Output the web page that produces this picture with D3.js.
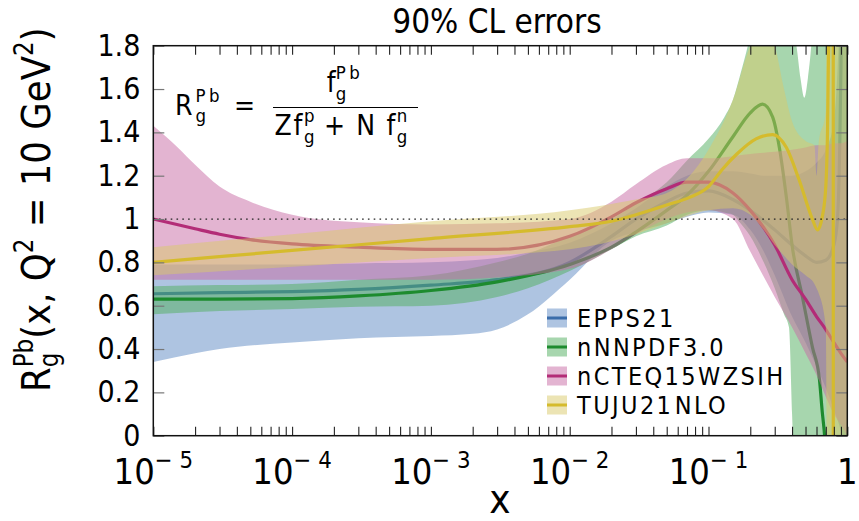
<!DOCTYPE html>
<html>
<head>
<meta charset="utf-8">
<script src="https://cdn.jsdelivr.net/npm/d3@7"></script>
<style>
  body { margin: 0; background: #fff; }
  svg text { font-family: 'DejaVu Sans Condensed', 'DejaVu Sans', sans-serif; font-stretch: condensed; fill: #000; white-space: pre; }
</style>
</head>
<body>
<svg class="chart" width="859" height="521"></svg>
<script>
// ---- data ----
const eppsX   = [1e-5, 3e-5, 1e-4, 3e-4, 1e-3, 3e-3, 1e-2, 2e-2, 3e-2, 5e-2, 0.07, 0.1, 0.15, 0.2, 0.3, 0.4, 0.5, 0.6, 0.7, 0.8, 0.85, 0.88, 0.9, 0.92, 0.95];
const eppsMid = [0.655, 0.66, 0.665, 0.675, 0.695, 0.72, 0.80, 0.92, 1.0, 1.08, 1.12, 1.13, 1.09, 1.04, 0.95, 0.88, 0.83, 0.80, 0.81, 0.88, 1.0, 1.3, 1.7, 2.5, 4];
const eppsBandX = [1e-5, 2e-5, 3e-5, 1e-4, 3e-4, 1e-3, 2e-3, 3e-3, 5e-3, 1e-2, 2e-2, 3e-2, 5e-2, 0.07, 0.1, 0.15, 0.2, 0.25, 0.3, 0.4, 0.5, 0.6, 0.7, 0.8, 0.9, 0.95, 1];
const eppsLo  = [0.34, 0.38, 0.40, 0.43, 0.45, 0.46, 0.47, 0.49, 0.56, 0.72, 0.90, 0.94, 0.98, 1.01, 1.03, 1.02, 0.95, 0.85, 0.74, 0.55, 0.43, 0.32, 0.22, 0.12, 0.02, -0.05, -0.1];
const eppsHi  = [0.79, 0.79, 0.79, 0.79, 0.795, 0.80, 0.81, 0.82, 0.845, 0.89, 0.98, 1.05, 1.15, 1.2, 1.22, 1.22, 1.21, 1.2, 1.2, 1.2, 1.22, 1.26, 1.32, 1.45, 2.2, 3, 3];

const nnX   = [1e-5, 3e-5, 1e-4, 3e-4, 1e-3, 3e-3, 1e-2, 2e-2, 3e-2, 5e-2, 0.07, 0.1, 0.15, 0.2, 0.245, 0.29, 0.324, 0.364, 0.402, 0.475, 0.56, 0.63, 0.66, 0.68, 0.72];
const nnMid = [0.63, 0.63, 0.633, 0.645, 0.67, 0.71, 0.79, 0.87, 0.94, 1.04, 1.11, 1.22, 1.38, 1.49, 1.53, 1.47, 1.33, 1.10, 0.87, 0.64, 0.41, 0.26, 0.11, 0.03, -0.2];
const nnBandX = [1e-5, 3e-5, 1e-4, 3e-4, 1e-3, 3e-3, 5e-3, 1e-2, 2e-2, 3e-2, 5e-2, 0.07, 0.1, 0.13, 0.15, 0.17, 0.2, 0.25, 0.3, 0.35, 0.38, 0.4, 0.43, 0.46, 0.49, 0.52, 0.55, 0.6, 0.7, 0.8, 1];
const nnLo  = [0.56, 0.575, 0.585, 0.595, 0.60, 0.64, 0.68, 0.76, 0.86, 0.92, 0.97, 1.02, 1.04, 1.03, 1.02, 0.98, 0.92, 0.80, 0.68, 0.56, 0.50, 0.1, -0.5, -1, -1, -1, -1, -1, -1, -1, -1];
const nnHi  = [0.69, 0.695, 0.70, 0.72, 0.74, 0.80, 0.84, 0.92, 1.0, 1.07, 1.17, 1.27, 1.37, 1.47, 1.55, 1.67, 1.85, 2.2, 2.3, 2.2, 2.0, 1.9, 1.8, 1.65, 1.56, 1.65, 1.8, 2.2, 3, 3, 3];

const ncX   = [1e-5, 2e-5, 3e-5, 5e-5, 1e-4, 3e-4, 1e-3, 3e-3, 1e-2, 2e-2, 3e-2, 5e-2, 0.07, 0.1, 0.15, 0.2, 0.25, 0.3, 0.4, 0.5, 0.6, 0.7, 0.8, 0.9, 1];
const ncMid = [1.0, 0.955, 0.93, 0.905, 0.885, 0.87, 0.86, 0.86, 0.92, 1.01, 1.075, 1.14, 1.17, 1.17, 1.12, 1.04, 0.96, 0.88, 0.72, 0.63, 0.55, 0.49, 0.43, 0.38, 0.34];
const ncBandX = [1e-5, 1.5e-5, 2e-5, 3e-5, 5e-5, 1e-4, 3e-4, 1e-3, 3e-3, 1e-2, 2e-2, 3e-2, 5e-2, 0.07, 0.1, 0.15, 0.2, 0.3, 0.4, 0.5, 0.6, 0.7, 0.8, 0.9, 1];
const ncLo  = [0.72, 0.72, 0.72, 0.72, 0.72, 0.72, 0.72, 0.72, 0.73, 0.77, 0.86, 0.93, 1.0, 1.03, 1.04, 1.0, 0.85, 0.64, 0.50, 0.38, 0.28, 0.18, 0.10, 0.05, 0.0];
const ncHi  = [1.43, 1.33, 1.25, 1.15, 1.08, 1.02, 0.985, 0.975, 0.98, 1.0, 1.08, 1.16, 1.25, 1.28, 1.28, 1.29, 1.30, 1.31, 1.32, 1.33, 1.34, 1.34, 1.35, 1.35, 1.36];

const tuX   = [1e-5, 1e-4, 1e-3, 1e-2, 2e-2, 3e-2, 5e-2, 0.073, 0.1, 0.126, 0.16, 0.22, 0.29, 0.364, 0.45, 0.56, 0.61, 0.66, 0.7, 0.72, 0.74, 0.76, 0.79, 0.795, 0.8, 0.9, 1];
const tuMid = [0.80, 0.855, 0.91, 0.965, 0.99, 1.02, 1.065, 1.10, 1.15, 1.23, 1.30, 1.37, 1.39, 1.33, 1.18, 1.0, 0.95, 1.01, 1.15, 1.4, 2.0, 3, 10, -10, -4, -1.5, -1];
const tuBandX = [1e-5, 1e-4, 1e-3, 1e-2, 3e-2, 5e-2, 0.1, 0.15, 0.2, 0.25, 0.3, 0.35, 0.4, 0.5, 0.58, 0.6, 0.62, 0.7, 0.72, 0.8, 1];
const tuLo  = [0.74, 0.78, 0.82, 0.86, 0.93, 0.98, 1.04, 1.05, 1.02, 0.95, 0.88, 0.83, 0.79, 0.74, 0.70, 0.68, 0.66, 0.5, -0.5, -1, -1];
const tuHi  = [0.87, 0.93, 0.99, 1.04, 1.09, 1.12, 1.32, 1.55, 1.8, 1.9, 1.8, 1.6, 1.45, 1.36, 1.34, 1.2, 1.34, 1.5, 3, 3, 3];

const setNames = ['EPPS21', 'nNNPDF3.0', 'nCTEQ15WZSIH', 'TUJU21 NLO'];
const yTicks = [0, 0.2, 0.4, 0.6, 0.8, 1, 1.2, 1.4, 1.6, 1.8];
const xDecades = [-5, -4, -3, -2, -1, 0];

// ---- layout ----
const svg = d3.select('.chart');
const x = d3.scaleLog().domain([1e-5, 1]).range([153.3, 847.3]);
const y = d3.scaleLinear().domain([0, 1.8]).range([435.7, 45.7]);

const sets = [
    {bx: eppsBandX, lo: eppsLo, hi: eppsHi, cx: eppsX, mid: eppsMid, fill: '#5d89c3', line: '#3a6daa'},
    {bx: nnBandX, lo: nnLo, hi: nnHi, cx: nnX, mid: nnMid, fill: '#4fae5d', line: '#1d8b2e'},
    {bx: ncBandX, lo: ncLo, hi: ncHi, cx: ncX, mid: ncMid, fill: '#c76aa3', line: '#b32c77'},
    {bx: tuBandX, lo: tuLo, hi: tuHi, cx: tuX, mid: tuMid, fill: '#d9c96a', line: '#d5bb2d'}
];

svg.append('clipPath').attr('id', 'plotclip')
    .append('rect')
    .attr('x', x.range()[0]).attr('y', y.range()[1])
    .attr('width', x.range()[1] - x.range()[0])
    .attr('height', y.range()[0] - y.range()[1]);

const plot = svg.append('g').attr('clip-path', 'url(#plotclip)');

const area = d3.area()
    .x(d => x(d[0]))
    .y0(d => y(d[1]))
    .y1(d => y(d[2]))
    .curve(d3.curveMonotoneX);

const line = d3.line()
    .x(d => x(d[0]))
    .y(d => y(d[1]))
    .curve(d3.curveMonotoneX);

sets.forEach(s => {
    plot.append('path')
        .datum(d3.zip(s.bx, s.lo, s.hi))
        .attr('d', area)
        .attr('fill', s.fill)
        .attr('fill-opacity', 0.5);
    plot.append('path')
        .datum(d3.zip(s.cx, s.mid))
        .attr('d', line)
        .attr('fill', 'none')
        .attr('stroke', s.line)
        .attr('stroke-width', 3.2);
});

// dotted reference at R = 1
plot.append('line')
    .attr('x1', x(1e-5)).attr('x2', x(1))
    .attr('y1', y(1)).attr('y2', y(1))
    .attr('stroke', '#222')
    .attr('stroke-width', 1.3)
    .attr('stroke-dasharray', '1.6,4.2');

// ---- axes ----
const xMinor = [];
xDecades.slice(0, -1).forEach(d => {
    for (let k = 1; k <= 9; k++) xMinor.push(k * Math.pow(10, d));
});
xMinor.push(1);

svg.append('g')
    .attr('transform', `translate(0,${y.range()[0]})`)
    .call(d3.axisBottom(x).tickValues(xMinor).tickSize(-9).tickFormat(''))
    .call(g => g.select('.domain').remove())
    .call(g => g.selectAll('line').attr('stroke', '#222').attr('stroke-width', 1.1));

svg.append('g')
    .attr('transform', `translate(0,${y.range()[1]})`)
    .call(d3.axisTop(x).tickValues(xMinor).tickSize(-9).tickFormat(''))
    .call(g => g.select('.domain').remove())
    .call(g => g.selectAll('line').attr('stroke', '#222').attr('stroke-width', 1.1));

svg.append('g')
    .attr('transform', `translate(${x.range()[0]},0)`)
    .call(d3.axisLeft(y).tickValues(yTicks).tickSize(-11).tickPadding(13).tickFormat(d3.format('')))
    .call(g => g.select('.domain').remove())
    .call(g => g.selectAll('line').attr('stroke', '#777').attr('stroke-width', 1.2))
    .call(g => g.selectAll('text')
        .attr('fill', '#000')
        .style('font-size', '30px')
        .style('font-family', null));

svg.append('g')
    .attr('transform', `translate(${x.range()[1]},0)`)
    .call(d3.axisRight(y).tickValues(yTicks).tickSize(-11).tickFormat(''))
    .call(g => g.select('.domain').remove())
    .call(g => g.selectAll('line').attr('stroke', '#777').attr('stroke-width', 1.2));

// frame
svg.append('rect')
    .attr('x', x.range()[0]).attr('y', y.range()[1])
    .attr('width', x.range()[1] - x.range()[0])
    .attr('height', y.range()[0] - y.range()[1])
    .attr('fill', 'none')
    .attr('stroke', '#111')
    .attr('stroke-width', 1.5);

// text with stacked super/subscripts, returns its width
function rich(g, x0, y0, parts, size, opts) {
    opts = opts || {};
    const ss = size * (opts.scale || 0.65);
    const up = opts.up || 0.42, down = opts.down || 0.22;
    let cx = x0;
    parts.forEach(p => {
        if (p.t !== undefined) {
            const t = g.append('text').attr('x', cx).attr('y', y0)
                .style('font-size', size + 'px')
                .style('letter-spacing', (opts.ls || 0) + 'px')
                .text(p.t);
            cx += t.node().getComputedTextLength();
        } else {
            let w = 0;
            if (p.sup) {
                const t = g.append('text').attr('x', cx).attr('y', y0 - size * up)
                    .style('font-size', ss + 'px')
                    .style('letter-spacing', (opts.sls || 0) + 'px')
                    .text(p.sup);
                w = Math.max(w, t.node().getComputedTextLength());
            }
            if (p.sub) {
                const t = g.append('text').attr('x', cx).attr('y', y0 + size * down)
                    .style('font-size', ss + 'px')
                    .style('letter-spacing', (opts.sls || 0) + 'px')
                    .text(p.sub);
                w = Math.max(w, t.node().getComputedTextLength());
            }
            cx += w;
        }
    });
    return cx - x0;
}

// x tick labels 10^n
xDecades.forEach(d => {
    const g = svg.append('g');
    const parts = d === 0 ? [{t: '1'}] : [{t: '10'}, {sup: '\u2212 ' + (-d)}];
    const w = rich(g, 0, 0, parts, 36, {scale: 0.66, up: 0.44});
    g.attr('transform', `translate(${x(Math.pow(10, d)) - w / 2},484)`);
});

// axis titles
svg.append('text')
    .attr('x', 500).attr('y', 513)
    .attr('text-anchor', 'middle')
    .style('font-size', '40px')
    .text('x');

svg.append('text')
    .attr('x', 497).attr('y', 33)
    .attr('text-anchor', 'middle')
    .style('font-size', '33px')
    .text('90% CL errors');

const yl = svg.append('g').attr('transform', 'translate(50,392) rotate(-90)');
rich(yl, 0, 0, [{t: 'R'}, {sup: 'Pb', sub: 'g'}, {t: '(x, Q'}, {sup: '2'}, {t: ' = 10 GeV'}, {sup: '2'}, {t: ')'}], 39.5, {scale: 0.65, up: 0.42, down: 0.2});

// ratio definition
const fm = svg.append('g');
rich(fm, 175, 115, [{t: 'R'}, {sup: 'Pb', sub: 'g'}, {t: ' ='}], 28, {scale: 0.66, sls: 3.5, ls: 3, up: 0.47, down: 0.24});
const num = svg.append('g');
const wn = rich(num, 0, 0, [{t: 'f'}, {sup: 'Pb', sub: 'g'}], 28, {scale: 0.66, sls: 3.5, up: 0.47, down: 0.28});
num.attr('transform', `translate(${345 - wn / 2},92)`);
const den = svg.append('g');
const wd = rich(den, 0, 0, [{t: 'Zf'}, {sup: 'p', sub: 'g'}, {t: ' + N f'}, {sup: 'n', sub: 'g'}], 28, {scale: 0.66, up: 0.47, down: 0.3, ls: 1.6});
den.attr('transform', `translate(${341 - wd / 2},135)`);
svg.append('line')
    .attr('x1', 273).attr('x2', 418)
    .attr('y1', 107.5).attr('y2', 107.5)
    .attr('stroke', '#000').attr('stroke-width', 1.2);

// legend
const legendY = [318, 347, 376, 405];
const legend = svg.append('g');
sets.forEach((s, i) => {
    const row = legend.append('g').attr('transform', `translate(547,${legendY[i]})`);
    row.append('rect')
        .attr('x', 0).attr('y', -9.5).attr('width', 20).attr('height', 19)
        .attr('fill', s.fill).attr('fill-opacity', 0.5);
    row.append('line')
        .attr('x1', 0).attr('x2', 20).attr('y1', 0).attr('y2', 0)
        .attr('stroke', s.line).attr('stroke-width', 3);
    row.append('text')
        .attr('x', 30).attr('y', 9)
        .style('font-size', '25px')
        .style('letter-spacing', '2.4px')
        .style('word-spacing', '-8px')
        .text(setNames[i]);
});
</script>
</body>
</html>
